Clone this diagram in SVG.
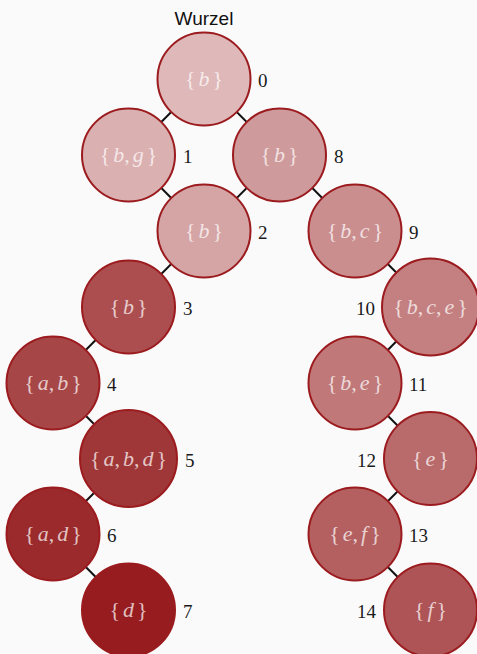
<svg xmlns="http://www.w3.org/2000/svg" width="477" height="654" viewBox="0 0 477 654">
<style>
.bg{fill:#fafafa}
.e{stroke:#111;stroke-width:2;fill:none}
.n{stroke:#9b1b1e;stroke-width:2}
.t{font-family:"Liberation Serif","DejaVu Serif",serif;font-size:22px;fill:#ffffff;fill-opacity:0.72;text-anchor:middle}
.t tspan.v{font-style:italic}
.l{font-family:"Liberation Serif","DejaVu Serif",serif;font-size:19px;fill:#1a1a1a}
.r{text-anchor:end}
.w{font-family:"Liberation Sans","DejaVu Sans",sans-serif;font-size:19px;fill:#111;text-anchor:middle}
</style>
<rect class="bg" width="477" height="654"/>
<text class="w" x="204" y="25">Wurzel</text>
<g id="edges">
<line class="e" x1="204" y1="79" x2="128.5" y2="155"/>
<line class="e" x1="204" y1="79" x2="279.5" y2="155"/>
<line class="e" x1="128.5" y1="155" x2="204" y2="231"/>
<line class="e" x1="279.5" y1="155" x2="204" y2="231"/>
<line class="e" x1="279.5" y1="155" x2="355" y2="231"/>
<line class="e" x1="204" y1="231" x2="128.5" y2="307"/>
<line class="e" x1="128.5" y1="307" x2="53" y2="383"/>
<line class="e" x1="53" y1="383" x2="128.5" y2="458.5"/>
<line class="e" x1="128.5" y1="458.5" x2="53" y2="534"/>
<line class="e" x1="53" y1="534" x2="128.5" y2="610"/>
<line class="e" x1="355" y1="231" x2="430.5" y2="307"/>
<line class="e" x1="430.5" y1="307" x2="355" y2="383"/>
<line class="e" x1="355" y1="383" x2="430.5" y2="458.5"/>
<line class="e" x1="430.5" y1="458.5" x2="355" y2="534"/>
<line class="e" x1="355" y1="534" x2="430.5" y2="610"/>
</g>
<g id="n0"><circle class="n" cx="204" cy="79" r="46.5" fill="#dfb8b9"/><text class="t" x="204" y="86">{<tspan class="v" dx="3">b</tspan><tspan dx="3">}</tspan></text><text class="l" x="258" y="87">0</text></g>
<g id="n1"><circle class="n" cx="128.5" cy="155" r="46.5" fill="#dbb0b1"/><text class="t" x="128.5" y="162">{<tspan class="v" dx="3">b</tspan>,<tspan class="v" dx="3">g</tspan><tspan dx="3">}</tspan></text><text class="l" x="183" y="163">1</text></g>
<g id="n8"><circle class="n" cx="279.5" cy="155" r="46.5" fill="#cf9a9b"/><text class="t" x="279.5" y="162">{<tspan class="v" dx="3">b</tspan><tspan dx="3">}</tspan></text><text class="l" x="334" y="163">8</text></g>
<g id="n2"><circle class="n" cx="204" cy="231" r="46.5" fill="#d5a5a6"/><text class="t" x="204" y="238">{<tspan class="v" dx="3">b</tspan><tspan dx="3">}</tspan></text><text class="l" x="258" y="239">2</text></g>
<g id="n9"><circle class="n" cx="355" cy="231" r="46.5" fill="#cb8e8f"/><text class="t" x="355" y="238">{<tspan class="v" dx="3">b</tspan>,<tspan class="v" dx="3">c</tspan><tspan dx="3">}</tspan></text><text class="l" x="409" y="239">9</text></g>
<g id="n3"><circle class="n" cx="128.5" cy="307" r="46.5" fill="#ac4e50"/><text class="t" x="128.5" y="314">{<tspan class="v" dx="3">b</tspan><tspan dx="3">}</tspan></text><text class="l" x="183" y="315">3</text></g>
<g id="n10"><circle class="n" cx="430.5" cy="307" r="48.5" fill="#c47f81"/><text class="t" x="430.5" y="314">{<tspan class="v" dx="3">b</tspan>,<tspan class="v" dx="3">c</tspan>,<tspan class="v" dx="3">e</tspan><tspan dx="3">}</tspan></text><text class="l r" x="375" y="315">10</text></g>
<g id="n4"><circle class="n" cx="53" cy="383" r="46.5" fill="#a74647"/><text class="t" x="53" y="390">{<tspan class="v" dx="3">a</tspan>,<tspan class="v" dx="3">b</tspan><tspan dx="3">}</tspan></text><text class="l" x="107" y="391">4</text></g>
<g id="n11"><circle class="n" cx="355" cy="383" r="46.5" fill="#c07879"/><text class="t" x="355" y="390">{<tspan class="v" dx="3">b</tspan>,<tspan class="v" dx="3">e</tspan><tspan dx="3">}</tspan></text><text class="l" x="409" y="391">11</text></g>
<g id="n5"><circle class="n" cx="128.5" cy="458.5" r="48.5" fill="#9f3638"/><text class="t" x="128.5" y="465.5">{<tspan class="v" dx="3">a</tspan>,<tspan class="v" dx="3">b</tspan>,<tspan class="v" dx="3">d</tspan><tspan dx="3">}</tspan></text><text class="l" x="185" y="466.5">5</text></g>
<g id="n12"><circle class="n" cx="430.5" cy="458.5" r="46.5" fill="#b96b6c"/><text class="t" x="430.5" y="465.5">{<tspan class="v" dx="3">e</tspan><tspan dx="3">}</tspan></text><text class="l r" x="376" y="466.5">12</text></g>
<g id="n6"><circle class="n" cx="53" cy="534" r="46.5" fill="#9a2a2c"/><text class="t" x="53" y="541">{<tspan class="v" dx="3">a</tspan>,<tspan class="v" dx="3">d</tspan><tspan dx="3">}</tspan></text><text class="l" x="107" y="542">6</text></g>
<g id="n13"><circle class="n" cx="355" cy="534" r="46.5" fill="#b46061"/><text class="t" x="355" y="541">{<tspan class="v" dx="3">e</tspan>,<tspan class="v" dx="3">f</tspan><tspan dx="3">}</tspan></text><text class="l" x="409" y="542">13</text></g>
<g id="n7"><circle class="n" cx="128.5" cy="610" r="46.5" fill="#961c1f"/><text class="t" x="128.5" y="617">{<tspan class="v" dx="3">d</tspan><tspan dx="3">}</tspan></text><text class="l" x="183" y="618">7</text></g>
<g id="n14"><circle class="n" cx="430.5" cy="610" r="46.5" fill="#ae5456"/><text class="t" x="430.5" y="617">{<tspan class="v" dx="3">f</tspan><tspan dx="3">}</tspan></text><text class="l r" x="376" y="618">14</text></g>
</svg>
